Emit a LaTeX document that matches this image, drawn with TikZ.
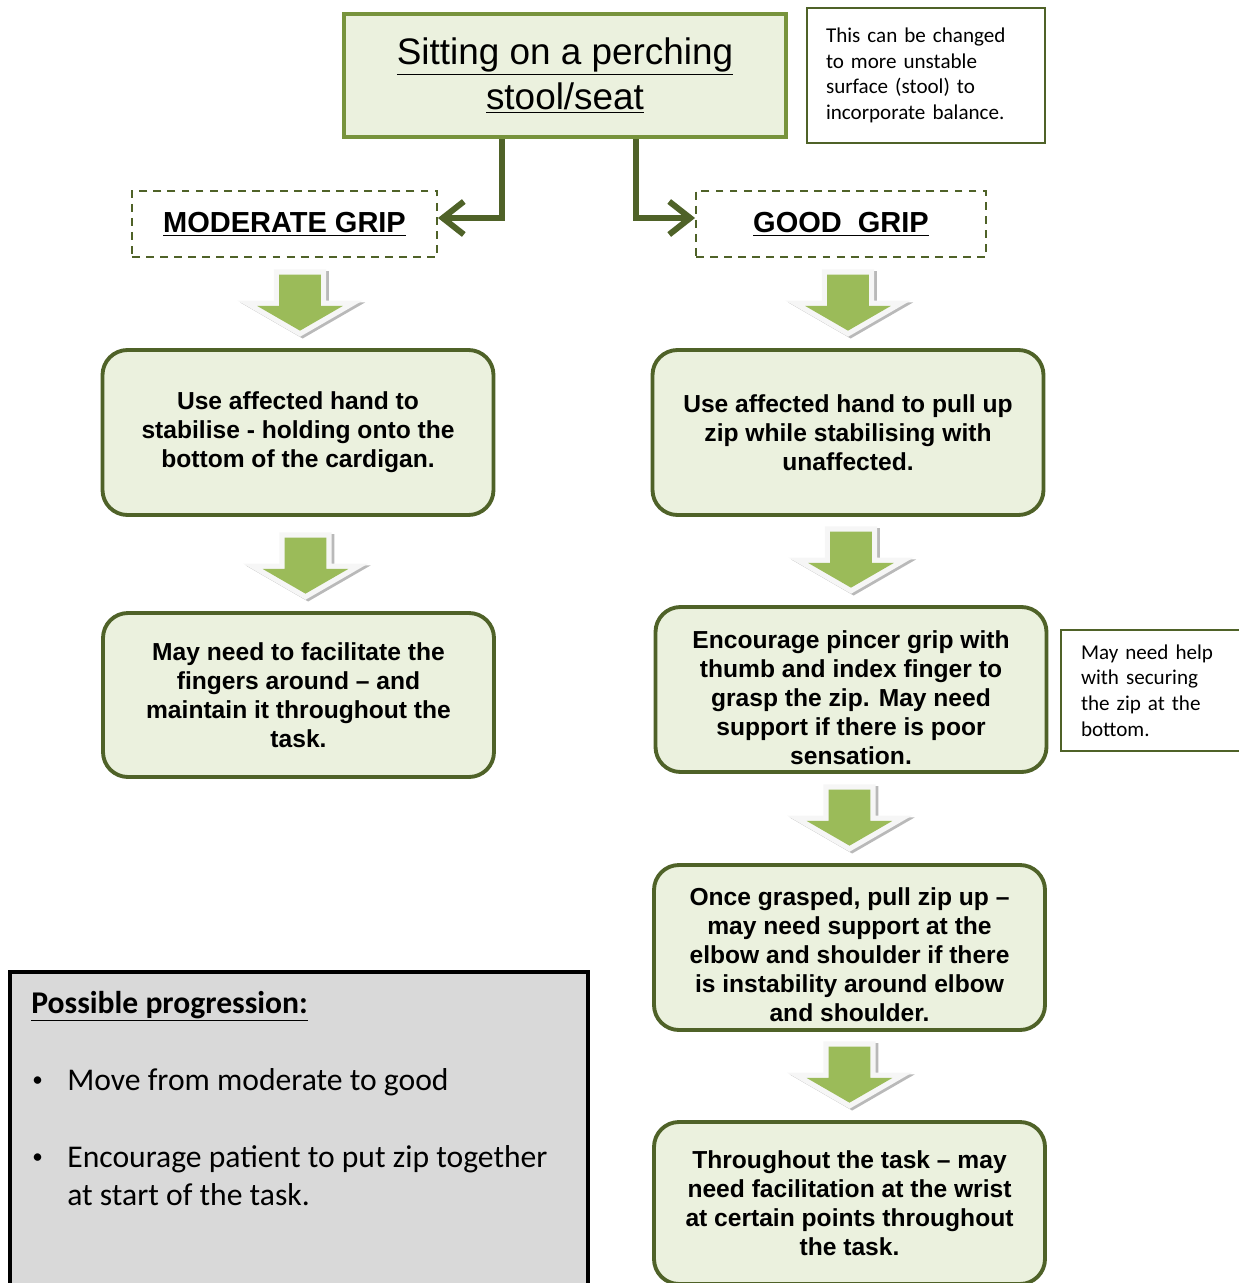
\documentclass[tikz,border=0pt]{standalone}
\usepackage{fontspec}
\setmainfont{Liberation Sans}
\newfontfamily\calfont{Carlito}
\usetikzlibrary{shapes.arrows,arrows.meta}
\definecolor{boxgreen}{HTML}{EBF1DE}
\definecolor{linegreen}{HTML}{4F6228}
\definecolor{olivegreen}{HTML}{77933C}
\definecolor{arrowgreen}{HTML}{9BBB59}
\definecolor{progray}{HTML}{D9D9D9}

\begin{document}
\begin{tikzpicture}
[font=\fontsize{14}{16.5}\selectfont\bfseries]
\tikzstyle{titlebox}=[draw=olivegreen, line width=2.6pt, fill=boxgreen, align=center, minimum width=8.84cm, minimum height=2.46cm, font=\fontsize{21}{25.6}\selectfont\mdseries]
\tikzstyle{gripbox}=[draw=linegreen, line width=1.1pt, dash pattern=on 4.5pt off 3.5pt, minimum height=1.32cm, font=\fontsize{16.5}{19}\selectfont\bfseries]
\tikzstyle{stepbox}=[draw=linegreen, line width=2.2pt, fill=boxgreen, rounded corners=0.5cm, align=center, minimum width=7.82cm, minimum height=3.3cm, inner sep=0pt]
\tikzstyle{notebox}=[draw=linegreen, line width=1.6pt, fill=white, align=left, font=\calfont\fontsize{12}{14.6}\selectfont\mdseries]
\tikzstyle{blockarrow}=[single arrow, shape border rotate=270, fill=arrowgreen, minimum height=1.12cm, inner sep=0.41cm, single arrow head extend=0.44cm, single arrow tip angle=120, line join=miter,
	preaction={draw=gray!55, line width=6pt, transform canvas={xshift=1.5pt, yshift=-1pt}},
	preaction={draw=gray!7, line width=6pt}]
\tikzstyle{elbow}=[draw=linegreen, line width=3.4pt, -{Straight Barb[length=0.42cm, width=0.66cm]}]
\tikzstyle{progtext}=[anchor=base west, inner sep=0pt, font=\calfont\fontsize{18}{21.6}\selectfont\mdseries]
\tikzstyle{bullet}=[anchor=base west, inner sep=0pt, font=\calfont\fontsize{12}{14}\selectfont]

\useasboundingbox (0,0) rectangle (24.76,-25.66);

% top of the chart
\node[titlebox] (title) at (11.3,-1.51) {\underline{Sitting on a perching}\\\underline{stool/seat}};
\node[notebox, text width=4.0cm, minimum width=4.76cm, minimum height=2.7cm] (note1) at (18.52,-1.51)
	{This can be changed\\to more unstable\\surface (stool) to\\incorporate balance.};
\node[gripbox, minimum width=6.1cm] (moderate) at (5.69,-4.48) {\underline{MODERATE GRIP}};
\node[gripbox, minimum width=5.8cm] (good) at (16.82,-4.48) {\underline{GOOD\ \ GRIP}};

\draw[elbow] ([xshift=-1.26cm]title.south) |- ([yshift=0.12cm]moderate.east);
\draw[elbow] ([xshift=1.42cm]title.south) |- ([yshift=0.12cm]good.west);

% moderate grip
\node[stepbox] (L1) at (5.96,-8.65) {Use affected hand to\\stabilise - holding onto the\\bottom of the cardigan.};
\node[stepbox, minimum height=3.28cm] (L2) at (5.97,-13.9) {May need to facilitate the\\fingers around – and\\maintain it throughout the\\task.};

% good grip
\node[stepbox] (R1) at (16.96,-8.65) {Use affected hand to pull up\\zip while stabilising with\\unaffected.};
\node[stepbox] (R2) at (17.02,-13.79) {\rule{0pt}{0.68cm}Encourage pincer grip with\\thumb and index finger to\\grasp the zip. May need\\support if there is poor\\sensation.};
\node[stepbox] (R3) at (16.99,-18.95) {\rule{0pt}{0.64cm}Once grasped, pull zip up –\\may need support at the\\elbow and shoulder if there\\is instability around elbow\\and shoulder.};
\node[stepbox, minimum height=3.24cm] (R4) at (16.99,-24.06) {Throughout the task – may\\need facilitation at the wrist\\at certain points throughout\\the task.};
\node[notebox, text width=2.9cm, minimum width=3.7cm, minimum height=2.42cm] (note2) at (23.07,-13.81)
	{May need help\\with securing\\the zip at the\\bottom.};

\node[blockarrow, anchor=tip] (aL1) at ([xshift=0.04cm, yshift=0.34cm]L1.north) {};
\node[blockarrow, anchor=tip] (aL2) at ([xshift=0.14cm, yshift=0.34cm]L2.north) {};
\node[blockarrow, anchor=tip] (aR1) at ([yshift=0.34cm]R1.north) {};
\node[blockarrow, anchor=tip] (aR2) at ([yshift=0.34cm]R2.north) {};
\node[blockarrow, anchor=tip] (aR3) at ([yshift=0.34cm]R3.north) {};
\node[blockarrow, anchor=tip] (aR4) at ([yshift=0.34cm]R4.north) {};

% progression box
\draw[line width=2.8pt, fill=progray] (0.2,-19.44) rectangle (11.76,-26.2);
\node[progtext] (ptitle) at (0.62,-20.26) {\bfseries\underline{Possible progression:}};
\node[bullet] (b1) at (0.64,-21.72) {•};
\node[progtext] (p1) at (1.34,-21.8) {Move from moderate to good};
\node[bullet] (b2) at (0.64,-23.26) {•};
\node[progtext] (p2) at (1.34,-23.34) {Encourage patient to put zip together};
\node[progtext] (p3) at (1.34,-24.1) {at start of the task.};

\end{tikzpicture}
\end{document}
